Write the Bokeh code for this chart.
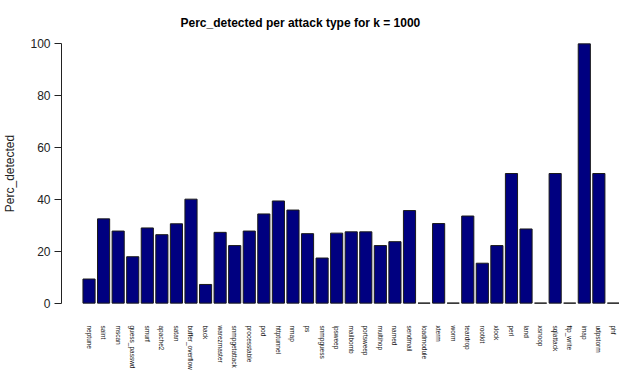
from bokeh.plotting import figure
from bokeh.models import Range1d, FixedTicker
from bokeh.embed import file_html
from bokeh.resources import INLINE

attacks = ["neptune", "saint", "mscan", "guess_passwd", "smurf", "apache2", "satan",
           "buffer_overflow", "back", "warezmaster", "snmpgetattack", "processtable",
           "pod", "httptunnel", "nmap", "ps", "snmpguess", "ipsweep", "mailbomb",
           "portsweep", "multihop", "named", "sendmail", "loadmodule", "xterm", "worm",
           "teardrop", "rootkit", "xlock", "perl", "land", "xsnoop", "sqlattack",
           "ftp_write", "imap", "udpstorm", "phf"]
perc_detected = [9.3, 32.5, 27.8, 17.9, 29.0, 26.4, 30.6,
                 40.1, 7.2, 27.3, 22.2, 27.8,
                 34.4, 39.4, 35.9, 26.8, 17.4, 27.0, 27.5,
                 27.5, 22.2, 23.7, 35.7, 0.0, 30.7, 0.0,
                 33.6, 15.4, 22.2, 50.0, 28.6, 0.0, 50.0,
                 0.0, 100.0, 50.0, 0.0]
y_ticks = [0, 20, 40, 60, 80, 100]

FONT = "Liberation Sans"
n = len(attacks)
centers = [0.7 + 1.2 * i for i in range(n)]

p = figure(width=619, height=372, output_backend="svg", toolbar_location=None,
           x_range=Range1d(-1.568, 44.4), y_range=Range1d(-4, 104),
           min_border_left=60, min_border_right=0, min_border_top=33,
           min_border_bottom=55)
p.outline_line_color = None
p.grid.grid_line_color = None
p.background_fill_color = "white"
p.border_fill_color = "white"

p.title.text = "Perc_detected per attack type for k = 1000"
p.title.align = "left"
p.title.offset = 119
p.title.text_font = FONT
p.title.text_font_style = "bold"
p.title.text_font_size = "12px"
p.title.text_color = "#000000"
p.title.standoff = 8

p.vbar(x=centers, top=perc_detected, bottom=0, width=1.0,
       fill_color="#000080", line_color="#1a1a1a", line_width=1)

# y axis
ya = p.yaxis[0]
ya.ticker = FixedTicker(ticks=y_ticks)
ya.bounds = (0, 100)
ya.axis_line_color = "#222222"
ya.major_tick_line_color = "#222222"
ya.major_tick_out = 7
ya.major_tick_in = 0
ya.minor_tick_line_color = None
ya.major_label_standoff = 4
ya.major_label_text_font = FONT
ya.major_label_text_font_size = "12px"
ya.major_label_text_color = "#222222"
ya.axis_label = "Perc_detected"
ya.axis_label_text_font = FONT
ya.axis_label_text_font_style = "normal"
ya.axis_label_text_font_size = "12px"
ya.axis_label_text_color = "#222222"
ya.axis_label_standoff = 10

# x axis
xa = p.xaxis[0]
xa.ticker = FixedTicker(ticks=centers)
xa.major_label_overrides = {c: a for c, a in zip(centers, attacks)}
xa.major_label_orientation = "vertical"
xa.axis_line_color = None
xa.major_tick_line_color = None
xa.minor_tick_line_color = None
xa.major_label_standoff = 6
xa.major_label_text_font = FONT
xa.major_label_text_font_size = "6.5px"
xa.major_label_text_color = "#111111"

open("out.html", "w").write(file_html(p, INLINE))
